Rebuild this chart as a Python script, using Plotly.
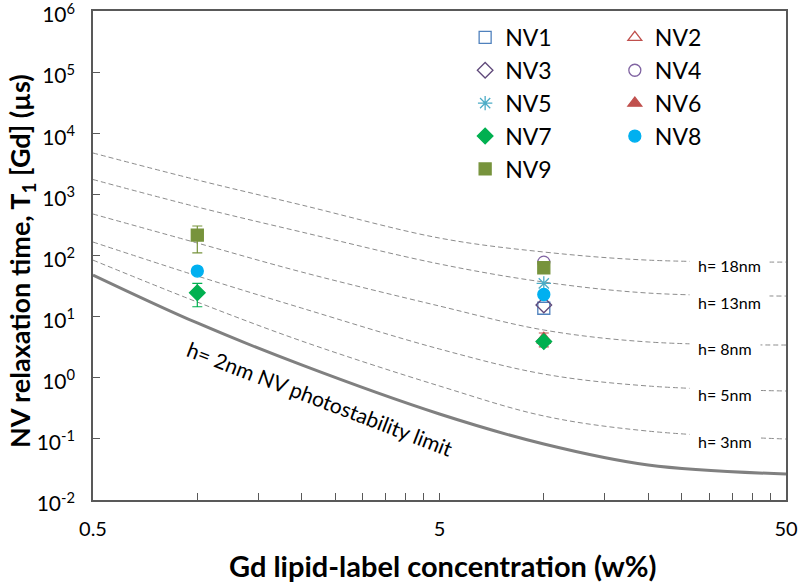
import plotly.graph_objects as go

# ---------------- data ----------------
x_curve = [0.5, 1, 2, 5, 10, 20, 50]
h18 = [4750, 1720, 670, 193, 114, 84, 78]
h13 = [1750, 621, 242, 72.6, 36.8, 24.3, 21.7]
h8 = [477, 160, 53.7, 14.9, 6.04, 3.85, 3.43]
h5 = [166, 46.2, 13.8, 2.95, 1.15, 0.733, 0.607]
h3 = [84, 17.3, 3.99, 0.733, 0.237, 0.134, 0.0995]
h2 = [48, 7.87, 1.62, 0.255, 0.0824, 0.0374, 0.0266]

nv_names = ["NV1", "NV2", "NV3", "NV4", "NV5", "NV6", "NV7", "NV8", "NV9"]
nv_x = {
    "NV1": [10], "NV2": [10], "NV3": [10], "NV4": [10], "NV5": [10],
    "NV6": [10], "NV7": [1, 10], "NV8": [1, 10], "NV9": [1, 10],
}
nv_y = {
    "NV1": [13.7], "NV2": [4.4], "NV3": [15.5], "NV4": [78], "NV5": [35],
    "NV6": [4.1], "NV7": [24.6, 3.9], "NV8": [55.7, 23], "NV9": [216, 63],
}
nv_err_plus = {"NV6": [1.3], "NV7": [10.4, None], "NV9": [88, None]}
nv_err_minus = {"NV6": [0.9], "NV7": [10.1, None], "NV9": [106, None]}

x_major = [0.5, 5, 50]
x_major_text = ["0.5", "5", "50"]
x_minor = [1, 1.5, 2, 2.5, 3, 3.5, 4, 4.5, 10, 15, 20, 25, 30, 35, 40, 45]
y_ticks = [1e-2, 1e-1, 1e0, 1e1, 1e2, 1e3, 1e4, 1e5, 1e6]
y_ticktext = ["10<sup>-2</sup>", "10<sup>-1</sup>", "10<sup>0</sup>", "10<sup>1</sup>",
              "10<sup>2</sup>", "10<sup>3</sup>", "10<sup>4</sup>", "10<sup>5</sup>",
              "10<sup>6</sup>"]

# ---------------- styles ----------------
styles = {
    "NV1": dict(symbol="square-open", color="#4F81BD"),
    "NV2": dict(symbol="triangle-up-open", color="#C0504D"),
    "NV3": dict(symbol="diamond-open", color="#604A7B"),
    "NV4": dict(symbol="circle-open", color="#8064A2"),
    "NV5": dict(symbol="asterisk-open", color="#4BACC6"),
    "NV6": dict(symbol="triangle-up", color="#C0504D"),
    "NV7": dict(symbol="diamond", color="#00B050"),
    "NV8": dict(symbol="circle", color="#00B0F0"),
    "NV9": dict(symbol="square", color="#77933C"),
}
legend_of = {"NV1": "legend", "NV3": "legend", "NV5": "legend", "NV7": "legend", "NV9": "legend",
             "NV2": "legend2", "NV4": "legend2", "NV6": "legend2", "NV8": "legend2"}

FONT = "Lato, 'Open Sans', sans-serif"

# Plot area on screen: x 93..786, y 11..500
PX = lambda sx: (sx - 93) / 693      # screen x -> paper x
PY = lambda sy: (500 - sy) / 489     # screen y -> paper y

fig = go.Figure()

for ys in [h18, h13, h8, h5, h3]:
    fig.add_trace(go.Scatter(
        x=x_curve, y=ys, mode="lines", line=dict(color="#8C8C8C", width=1, dash="5px,3px",
                                                  shape="spline", smoothing=1.0),
        showlegend=False, hoverinfo="skip"))
fig.add_trace(go.Scatter(
    x=x_curve, y=h2, mode="lines", line=dict(color="#808080", width=3, shape="spline", smoothing=1.0),
    showlegend=False, hoverinfo="skip"))

for name in nv_names:
    st = styles[name]
    err = None
    if name in nv_err_plus:
        err = dict(type="data", symmetric=False, array=nv_err_plus[name],
                   arrayminus=nv_err_minus[name], color=st["color"], thickness=1.2, width=5)
    fig.add_trace(go.Scatter(
        x=nv_x[name], y=nv_y[name], mode="markers", name=name,
        marker=dict(symbol=st["symbol"], size=12, color=st["color"],
                    line=dict(color=st["color"], width=1.3)),
        error_y=err, legend=legend_of[name]))

axis_common = dict(type="log", showgrid=False, zeroline=False, showline=True,
                   linecolor="#595959", linewidth=1.5, mirror=True, automargin=False,
                   ticklabeloverflow="allow",
                   ticks="inside", ticklen=7, tickwidth=1.3, tickcolor="#595959")

fig.update_xaxes(**axis_common, range=[-0.30103, 1.69897], tickvals=x_major, ticktext=x_major_text,
                 ticklabelstandoff=10, tickfont=dict(family=FONT, size=20, color="#000"),
                 minor=dict(tickvals=x_minor, ticks="inside", ticklen=7, tickwidth=1.3,
                            tickcolor="#595959", showgrid=False))
fig.update_yaxes(**axis_common, range=[-2, 6], tickvals=y_ticks, ticktext=y_ticktext,
                 ticklabelstandoff=12, ticklabelshift=4,
                 tickfont=dict(family=FONT, size=21, color="#000"))

legend_common = dict(font=dict(family=FONT, size=23, color="#000"), bgcolor="rgba(0,0,0,0)",
                     yanchor="top", xanchor="left", itemclick=False, tracegroupgap=0)
fig.update_layout(
    width=799, height=585,
    margin=dict(l=93, r=13, t=11, b=85),
    plot_bgcolor="white", paper_bgcolor="white",
    font=dict(family=FONT, color="#000"),
    legend=dict(**legend_common, x=0.537, y=0.99),
    legend2=dict(**legend_common, x=0.753, y=0.99),
)

annotations = [
    dict(text="Gd lipid-label concentration (w%)", xref="paper", yref="paper",
         x=PX(442), y=PY(565), showarrow=False, xanchor="center", yanchor="middle",
         font=dict(family=FONT, size=29, color="#000", weight="bold")),
    dict(text="NV relaxation time, T<sub>1</sub> [Gd] (\u00b5s)", xref="paper", yref="paper",
         x=PX(21), y=PY(261), showarrow=False, textangle=-90,
         xanchor="center", yanchor="middle",
         font=dict(family=FONT, size=27, color="#000", weight="bold")),
    dict(text="h= 2nm NV photostability limit", xref="paper", yref="paper",
         x=PX(320), y=PY(398), showarrow=False, textangle=21,
         xanchor="center", yanchor="middle",
         font=dict(family=FONT, size=21, color="#000")),
]
labels = [("h= 18nm", 265), ("h= 13nm", 302.5), ("h= 8nm", 349), ("h= 5nm", 394.5), ("h= 3nm", 441.5)]
for txt, py in labels:
    annotations.append(dict(text=txt, xref="paper", yref="paper", x=PX(697) - 0.012,
                            y=PY(py), showarrow=False, xanchor="left", yanchor="middle",
                            bgcolor="white", borderpad=8,
                            font=dict(family=FONT, size=16, color="#000")))
fig.update_layout(annotations=annotations)

fig.write_html("out.html", config={"displayModeBar": False},
               post_script="document.body.style.margin='0';document.body.style.overflow='hidden';")
